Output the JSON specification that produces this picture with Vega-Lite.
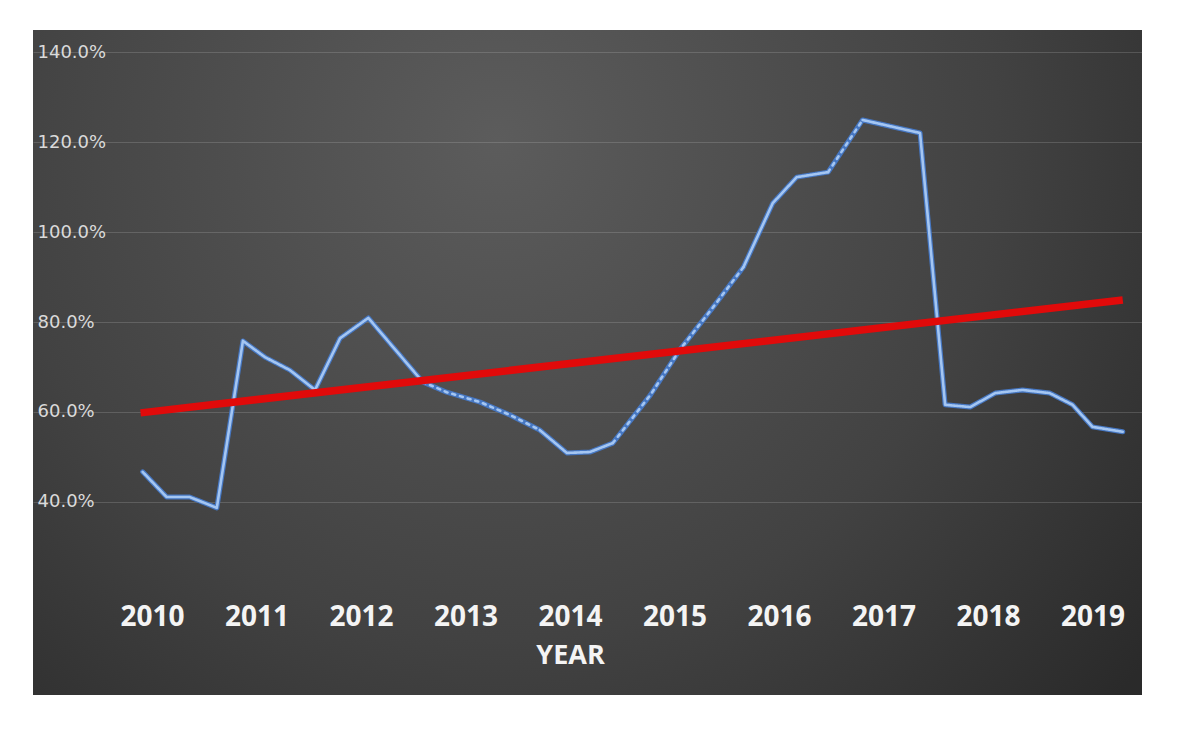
{
  "$schema": "https://vega.github.io/schema/vega-lite/v6.json",
  "width": 1109,
  "height": 665,
  "autosize": {"type": "none"},
  "padding": {"left": 33, "top": 30, "right": 56, "bottom": 59},
  "background": "#ffffff",
  "config": {
    "view": {
      "fill": {"gradient": "radial", "x1": 0.42, "y1": 0.3, "r1": 0, "x2": 0.42, "y2": 0.3, "r2": 0.75,
        "stops": [{"offset": 0, "color": "#5c5c5c"}, {"offset": 0.6, "color": "#424242"}, {"offset": 1, "color": "#2a2a2a"}]},
      "stroke": null
    }
  },
  "datasets": {
    "main": [
      {"t": 2009.91, "v": 0.467}, {"t": 2010.14, "v": 0.411}, {"t": 2010.36, "v": 0.411}, {"t": 2010.62, "v": 0.387},
      {"t": 2010.87, "v": 0.758}, {"t": 2011.08, "v": 0.722}, {"t": 2011.32, "v": 0.693}, {"t": 2011.56, "v": 0.649},
      {"t": 2011.80, "v": 0.764}, {"t": 2012.07, "v": 0.809}, {"t": 2012.33, "v": 0.738}, {"t": 2012.59, "v": 0.667},
      {"t": 2012.82, "v": 0.644}, {"t": 2013.14, "v": 0.622}, {"t": 2013.43, "v": 0.593}, {"t": 2013.71, "v": 0.560},
      {"t": 2013.97, "v": 0.509}, {"t": 2014.19, "v": 0.511}, {"t": 2014.41, "v": 0.531}, {"t": 2014.77, "v": 0.638},
      {"t": 2015.05, "v": 0.738}, {"t": 2015.37, "v": 0.833}, {"t": 2015.66, "v": 0.922}, {"t": 2015.94, "v": 1.064},
      {"t": 2016.17, "v": 1.122}, {"t": 2016.47, "v": 1.133}, {"t": 2016.80, "v": 1.249}, {"t": 2017.35, "v": 1.220},
      {"t": 2017.59, "v": 0.616}, {"t": 2017.83, "v": 0.611}, {"t": 2018.07, "v": 0.642}, {"t": 2018.33, "v": 0.649},
      {"t": 2018.59, "v": 0.642}, {"t": 2018.81, "v": 0.616}, {"t": 2019.00, "v": 0.567}, {"t": 2019.29, "v": 0.556}
    ],
    "inner": [
      {"part": 1, "style": "solid", "t": 2009.91, "v": 0.467}, {"part": 1, "style": "solid", "t": 2010.14, "v": 0.411},
      {"part": 1, "style": "solid", "t": 2010.36, "v": 0.411}, {"part": 1, "style": "solid", "t": 2010.62, "v": 0.387},
      {"part": 1, "style": "solid", "t": 2010.87, "v": 0.758}, {"part": 1, "style": "solid", "t": 2011.08, "v": 0.722},
      {"part": 1, "style": "solid", "t": 2011.32, "v": 0.693}, {"part": 1, "style": "solid", "t": 2011.56, "v": 0.649},
      {"part": 1, "style": "solid", "t": 2011.80, "v": 0.764}, {"part": 1, "style": "solid", "t": 2012.07, "v": 0.809},
      {"part": 1, "style": "solid", "t": 2012.33, "v": 0.738}, {"part": 1, "style": "solid", "t": 2012.59, "v": 0.667},
      {"part": 2, "style": "dotted", "t": 2012.59, "v": 0.667}, {"part": 2, "style": "dotted", "t": 2012.82, "v": 0.644},
      {"part": 2, "style": "dotted", "t": 2013.14, "v": 0.622}, {"part": 2, "style": "dotted", "t": 2013.43, "v": 0.593},
      {"part": 2, "style": "dotted", "t": 2013.71, "v": 0.560},
      {"part": 3, "style": "solid", "t": 2013.71, "v": 0.560}, {"part": 3, "style": "solid", "t": 2013.97, "v": 0.509},
      {"part": 3, "style": "solid", "t": 2014.19, "v": 0.511}, {"part": 3, "style": "solid", "t": 2014.41, "v": 0.531},
      {"part": 4, "style": "dotted", "t": 2014.41, "v": 0.531}, {"part": 4, "style": "dotted", "t": 2014.77, "v": 0.638},
      {"part": 4, "style": "dotted", "t": 2015.05, "v": 0.738}, {"part": 4, "style": "dotted", "t": 2015.37, "v": 0.833},
      {"part": 4, "style": "dotted", "t": 2015.66, "v": 0.922},
      {"part": 5, "style": "solid", "t": 2015.66, "v": 0.922}, {"part": 5, "style": "solid", "t": 2015.94, "v": 1.064},
      {"part": 5, "style": "solid", "t": 2016.17, "v": 1.122}, {"part": 5, "style": "solid", "t": 2016.47, "v": 1.133},
      {"part": 6, "style": "dotted", "t": 2016.47, "v": 1.133}, {"part": 6, "style": "dotted", "t": 2016.80, "v": 1.249},
      {"part": 7, "style": "solid", "t": 2016.80, "v": 1.249}, {"part": 7, "style": "solid", "t": 2017.35, "v": 1.220},
      {"part": 7, "style": "solid", "t": 2017.59, "v": 0.616}, {"part": 7, "style": "solid", "t": 2017.83, "v": 0.611},
      {"part": 7, "style": "solid", "t": 2018.07, "v": 0.642}, {"part": 7, "style": "solid", "t": 2018.33, "v": 0.649},
      {"part": 7, "style": "solid", "t": 2018.59, "v": 0.642}, {"part": 7, "style": "solid", "t": 2018.81, "v": 0.616},
      {"part": 7, "style": "solid", "t": 2019.00, "v": 0.567}, {"part": 7, "style": "solid", "t": 2019.29, "v": 0.556}
    ],
    "trend": [
      {"t": 2009.89, "v": 0.598},
      {"t": 2019.29, "v": 0.849}
    ]
  },
  "layer": [
    {
      "data": {"name": "main"},
      "mark": {"type": "line", "color": "#4677c2", "strokeWidth": 5, "strokeJoin": "round", "strokeCap": "round"},
      "encoding": {
        "x": {
          "field": "t", "type": "quantitative",
          "scale": {"domain": [2008.861, 2019.474], "nice": false, "zero": false},
          "axis": {
            "values": [2010, 2011, 2012, 2013, 2014, 2015, 2016, 2017, 2018, 2019],
            "format": "d", "title": "YEAR", "orient": "bottom", "offset": -78,
            "domain": false, "ticks": false, "tickSize": 0, "grid": false,
            "labelPadding": 0, "labelBaseline": "middle", "labelFlush": false, "labelOverlap": false,
            "labelFont": "Open Sans", "labelFontWeight": "bold", "labelFontSize": 28, "labelColor": "#f4f4f4",
            "titleFont": "Open Sans", "titleFontWeight": "bold", "titleFontSize": 27, "titleColor": "#f4f4f4",
            "titleX": 537, "titleY": 38, "titleBaseline": "middle", "titleAlign": "center"
          }
        },
        "y": {
          "field": "v", "type": "quantitative",
          "scale": {"domain": [-0.0289, 1.4489], "nice": false, "zero": false},
          "axis": {
            "values": [0.4, 0.6, 0.8, 1.0, 1.2, 1.4],
            "format": ".1%", "title": null,
            "domain": false, "ticks": false, "tickSize": 0,
            "labelAlign": "left", "labelPadding": -4, "labelBaseline": "middle",
            "labelFont": "DejaVu Sans", "labelFontSize": 18, "labelColor": "#dadada",
            "grid": true, "gridColor": "#d0d0d0", "gridOpacity": 0.2, "gridWidth": 1
          }
        }
      }
    },
    {
      "data": {"name": "inner"},
      "mark": {"type": "line", "color": "#a4c6f2", "strokeWidth": 2.6, "strokeCap": "round", "strokeJoin": "round"},
      "encoding": {
        "x": {"field": "t", "type": "quantitative"},
        "y": {"field": "v", "type": "quantitative"},
        "detail": {"field": "part", "type": "nominal"},
        "strokeDash": {
          "field": "style", "type": "nominal",
          "scale": {"domain": ["solid", "dotted"], "range": [[1, 0], [3, 5]]},
          "legend": null
        }
      }
    },
    {
      "data": {"name": "trend"},
      "mark": {"type": "line", "color": "#e10a0a", "strokeWidth": 7.5},
      "encoding": {
        "x": {"field": "t", "type": "quantitative"},
        "y": {"field": "v", "type": "quantitative"}
      }
    }
  ]
}
